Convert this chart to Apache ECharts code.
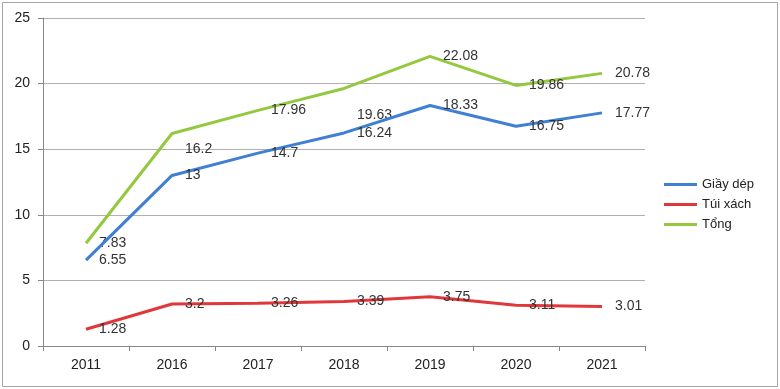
<!DOCTYPE html>
<html><head><meta charset="utf-8">
<script src="https://cdn.jsdelivr.net/npm/echarts@6/dist/echarts.min.js"></script>
<style>html,body{margin:0;padding:0;background:#fff}#c{width:780px;height:389px}</style>
</head><body><div id="c"></div>
<script>
const categories = ['2011','2016','2017','2018','2019','2020','2021'];
const giayDep = [6.55, 13, 14.7, 16.24, 18.33, 16.75, 17.77];
const tuiXach = [1.28, 3.2, 3.26, 3.39, 3.75, 3.11, 3.01];
const tong = [7.83, 16.2, 17.96, 19.63, 22.08, 19.86, 20.78];
const seriesNames = ['Giầy dép', 'Túi xách', 'Tổng'];
const yTicks = [0, 5, 10, 15, 20, 25];

const colors = ['#3f7fd4', '#e0373a', '#93c83f'];
const labelOffsets = {2: {1: [0, 16], 3: [0, 27]}};
const font = 'Liberation Sans, Arial, sans-serif';

function mk(name, vals, idx) {
  return {
    name, type: 'line', data: vals.map((v, i) => {
      const o = labelOffsets[idx] && labelOffsets[idx][i];
      return o ? {value: v, label: {offset: o}} : v;
    }),
    symbol: 'circle', symbolSize: 0, showSymbol: true, smooth: false,
    lineStyle: {width: 3, color: colors[idx]},
    itemStyle: {color: colors[idx]},
    label: {show: true, position: 'right', distance: 13, color: '#333', fontSize: 14, fontFamily: font},
    z: 3 - idx
  };
}

const chart = echarts.init(document.getElementById('c'), null, {renderer: 'canvas'});
chart.setOption({
  animation: false,
  textStyle: {fontFamily: font},
  grid: {left: 43, right: 135, top: 18, bottom: 43},
  graphic: [{type: 'rect', shape: {x: 2.5, y: 2.5, width: 775, height: 384}, style: {fill: 'none', stroke: '#a6a6a6', lineWidth: 1}}],
  legend: {
    orient: 'vertical', left: 659, top: 173, itemWidth: 33, itemHeight: 3, itemGap: 7,
    icon: 'rect',
    data: seriesNames,
    textStyle: {color: '#222', fontSize: 13, fontFamily: font}
  },
  xAxis: {
    type: 'category', data: categories, boundaryGap: true,
    axisLine: {lineStyle: {color: '#888'}},
    axisTick: {show: true, length: 5, lineStyle: {color: '#888'}},
    axisLabel: {color: '#222', fontSize: 14, margin: 12, fontFamily: font}
  },
  yAxis: {
    type: 'value', min: yTicks[0], max: yTicks[yTicks.length - 1], interval: 5,
    axisLine: {show: true, lineStyle: {color: '#888'}},
    axisTick: {show: true, length: 5, lineStyle: {color: '#888'}},
    splitLine: {lineStyle: {color: '#b0b0b0'}},
    axisLabel: {color: '#222', fontSize: 14, margin: 13, fontFamily: font}
  },
  series: [mk(seriesNames[0], giayDep, 0), mk(seriesNames[1], tuiXach, 1), mk(seriesNames[2], tong, 2)]
});
</script></body></html>
